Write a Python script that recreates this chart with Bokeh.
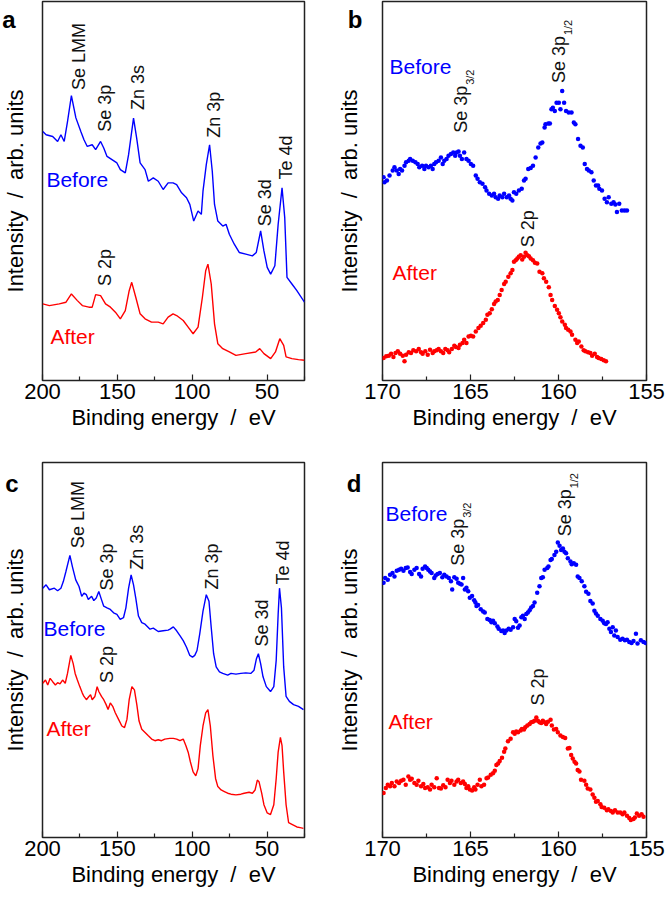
import math
from bokeh.plotting import figure
from bokeh.layouts import row, column
from bokeh.models import Range1d, FixedTicker
from bokeh.core.properties import value
from bokeh.embed import file_html
from bokeh.resources import INLINE

FONT = "Liberation Sans"
BLUE = "#0000ff"
RED = "#ff0000"
INK = "#222222"

# ---------------- Panel a : survey, line spectra ----------------
a_before_ev = [199.8, 197.6, 193.2, 189.9, 187.7, 185.5, 183.3, 180.7, 177.7, 174.4, 172.3, 170.1, 166.8, 164.5, 161.2, 159.1, 156.9, 153.6, 150.3, 148.0, 144.7, 142.5, 139.2, 137.1, 134.8, 131.5, 129.3, 126.0, 122.7, 119.4, 116.1, 112.8, 110.4, 107.1, 103.8, 101.6, 99.0, 96.1, 93.9, 92.8, 90.6, 88.4, 86.6, 85.1, 82.9, 79.6, 77.4, 75.2, 71.9, 68.6, 64.2, 59.8, 57.2, 54.3, 52.1, 49.9, 47.6, 44.8, 42.6, 40.0, 38.2, 36.7, 33.4, 30.1, 25.0]
a_before_int = [250.3, 247, 245.3, 240.3, 247, 240.3, 260.3, 286.3, 264, 250.3, 242, 235.3, 237, 232, 240.3, 233.7, 225.3, 222, 218.7, 212, 208.7, 227, 263.7, 243.7, 218.7, 212, 200.3, 203.7, 200.3, 192, 198.7, 198.7, 197, 188.7, 183.7, 177, 160.3, 170.3, 167, 190.3, 217, 237, 210.3, 177, 160.3, 155.3, 157, 147, 137, 128.7, 127, 125.3, 128.7, 150.3, 130.3, 113.7, 107, 115.3, 157, 193.7, 163.7, 103.7, 97, 90.3, 78.7]
a_after_ev = [199.8, 195.4, 188.8, 184.3, 180.7, 176.7, 173.4, 169.0, 166.8, 164.5, 161.2, 157.9, 154.6, 151.3, 148.0, 144.7, 142.1, 140.4, 137.7, 134.8, 131.5, 127.2, 122.7, 119.4, 116.1, 112.8, 110.4, 106.0, 102.7, 99.4, 96.1, 93.2, 91.0, 89.5, 87.3, 85.1, 82.9, 79.6, 75.2, 70.8, 64.2, 57.6, 54.9, 52.1, 47.6, 44.4, 41.5, 38.9, 37.3, 33.4, 29.0, 25.0]
a_after_int = [77, 75.3, 77, 78.7, 87, 80.3, 75.3, 73.7, 73.7, 86.3, 85.3, 77, 73.7, 68.7, 62, 70.3, 90.3, 98.7, 83.7, 67, 62, 58.7, 58.7, 57, 63.7, 67, 65.3, 60.3, 53.7, 47, 53.7, 83.7, 110.3, 117, 97, 57, 37, 32, 28.7, 25.3, 27, 28.7, 32, 27, 22, 28.7, 42, 35.3, 23.7, 22, 21, 20.3]

# ---------------- Panel c : survey, line spectra ----------------
c_before_ev = [199.8, 197.6, 195.4, 192.1, 189.9, 187.7, 186.1, 184.4, 181.7, 180.0, 177.8, 175.6, 173.8, 172.3, 170.7, 169.4, 167.2, 165.7, 164.1, 162.4, 160.6, 159.1, 156.9, 154.7, 152.5, 150.3, 148.1, 145.9, 144.3, 142.5, 140.8, 139.2, 137.7, 135.9, 133.7, 131.5, 128.2, 126.0, 122.7, 119.4, 116.1, 114.8, 112.6, 110.4, 108.2, 106.0, 103.8, 101.6, 99.8, 98.3, 96.8, 95.0, 92.8, 90.6, 88.8, 87.3, 85.7, 84.0, 81.8, 79.6, 76.3, 74.1, 70.8, 67.5, 64.2, 60.9, 58.7, 57.1, 55.8, 54.3, 52.7, 50.5, 47.7, 45.5, 43.9, 42.6, 41.7, 40.4, 38.9, 37.3, 35.1, 32.3, 29.0, 25.7]
c_before_int = [253.3, 256.7, 251.7, 253.3, 250.7, 253.3, 260, 270, 286.7, 275, 261.7, 255, 245, 248.3, 246.7, 241.7, 245, 240.7, 243.3, 250, 241.7, 235, 233.3, 231.7, 228.3, 226.7, 221.7, 223.3, 233.3, 253.3, 266.7, 256.7, 243.3, 225, 218.3, 216.7, 211.7, 212.7, 209.3, 210, 210.7, 211.7, 214, 210, 205, 200, 193.3, 185, 183.3, 185, 190, 206.7, 230, 246.7, 240, 213.3, 186.7, 173.3, 168.3, 166.7, 165, 166.7, 166, 166.7, 167.3, 166.7, 170, 181.7, 186.7, 176.7, 163.3, 153.3, 148.3, 153.3, 180, 226.7, 253.3, 233.3, 173.3, 143.3, 138.3, 135, 133.3, 130]
c_after_ev = [199.8, 198.0, 196.5, 194.9, 193.2, 191.4, 189.9, 188.3, 186.6, 184.8, 183.3, 181.1, 179.5, 178.2, 176.7, 175.1, 173.4, 172.3, 170.7, 169.0, 167.9, 166.8, 165.0, 163.5, 162.4, 160.6, 159.1, 157.5, 156.2, 154.7, 153.1, 151.4, 149.2, 147.0, 145.2, 143.6, 142.1, 140.3, 138.6, 137.0, 135.5, 133.7, 131.5, 129.3, 127.1, 124.9, 122.7, 120.5, 118.3, 115.0, 112.6, 110.4, 108.2, 106.0, 104.2, 102.7, 101.2, 99.4, 97.6, 96.1, 94.6, 92.8, 91.0, 89.5, 87.9, 86.2, 84.4, 82.9, 80.7, 78.5, 76.3, 74.1, 70.8, 67.5, 65.3, 62.0, 59.8, 58.0, 56.5, 55.4, 53.6, 52.1, 49.9, 47.7, 45.5, 43.9, 42.6, 41.1, 40.0, 38.9, 37.3, 35.6, 33.4, 30.1, 27.9, 25.7]
c_after_int = [156.7, 160, 155, 161.7, 158.3, 155, 157.3, 156, 160, 156.7, 166.7, 185, 176.7, 166.7, 160, 153.3, 146.7, 143.3, 140, 143.3, 145, 140, 143.3, 153.3, 148.3, 143.3, 140, 135, 130, 136.7, 133.3, 126.7, 120, 113.3, 111.7, 120, 140, 153.3, 150, 135, 118.3, 110, 106.7, 103.3, 100, 98.3, 99.3, 98.3, 100, 100.7, 100.7, 100, 98.3, 100, 93.3, 86.7, 76.7, 66.7, 62.7, 70, 93.3, 113.3, 126.7, 130, 113.3, 83.3, 60, 51.7, 48.3, 46.7, 45, 44, 43.3, 44, 45, 46, 45, 48.3, 58.3, 56.7, 45, 33.3, 25, 23.3, 33.3, 60, 86.7, 101.7, 93.3, 66.7, 33.3, 15, 13.3, 10.7, 10, 9.3]

# ---------------- Panel b : high resolution, points ----------------
b_before_ev = [169.94, 169.89, 169.75, 169.60, 169.42, 169.32, 169.19, 169.08, 169.00, 168.89, 168.75, 168.66, 168.51, 168.43, 168.28, 168.13, 168.00, 167.91, 167.75, 167.62, 167.53, 167.38, 167.25, 167.15, 167.06, 166.96, 166.81, 166.68, 166.58, 166.49, 166.36, 166.25, 166.11, 165.98, 165.87, 165.79, 165.68, 165.60, 165.49, 165.36, 165.23, 165.11, 164.98, 164.85, 164.70, 164.60, 164.47, 164.32, 164.17, 164.09, 163.94, 163.79, 163.66, 163.57, 163.43, 163.34, 163.19, 163.09, 162.94, 162.81, 162.72, 162.62, 162.53, 162.40, 162.25, 162.09, 161.96, 161.87, 161.72, 161.58, 161.45, 161.30, 161.15, 161.02, 160.92, 160.79, 160.74, 160.58, 160.49, 160.40, 160.32, 160.21, 160.11, 159.98, 159.89, 159.79, 159.68, 159.57, 159.42, 159.26, 159.13, 159.04, 158.89, 158.75, 158.62, 158.51, 158.38, 158.28, 158.13, 158.00, 157.87, 157.75, 157.68, 157.53, 157.38, 157.25, 157.15, 157.00, 156.87, 156.77, 156.68, 156.55, 156.40, 156.25, 156.11]
b_before_int = [204.3, 199.3, 201.0, 206.0, 211.0, 214.3, 211.0, 207.7, 212.7, 211.0, 216.0, 219.3, 221.0, 222.7, 221.0, 219.3, 217.7, 214.3, 216.0, 212.7, 216.0, 214.3, 216.0, 212.7, 217.7, 219.3, 221.0, 224.3, 217.7, 221.0, 222.7, 226.0, 227.7, 229.3, 226.0, 229.3, 230.3, 226.0, 222.7, 229.3, 222.7, 221.0, 217.7, 216.0, 206.0, 202.7, 199.3, 197.7, 194.3, 191.0, 187.7, 186.0, 187.7, 184.3, 182.7, 186.0, 184.3, 187.7, 184.3, 186.0, 182.7, 181.0, 189.3, 187.7, 191.0, 192.7, 201.0, 202.7, 212.7, 213.7, 216.0, 224.3, 234.3, 238.3, 239.3, 254.3, 257.7, 258.3, 258.3, 272.7, 274.3, 271.0, 279.3, 279.3, 272.7, 291.0, 279.3, 271.0, 269.3, 269.3, 259.3, 257.7, 242.7, 236.0, 234.3, 217.7, 212.7, 211.0, 209.3, 201.0, 196.0, 196.0, 192.7, 191.0, 182.7, 179.3, 184.3, 177.7, 179.3, 177.0, 169.3, 177.7, 171.0, 171.0, 171.0]
b_after_ev = [169.94, 169.79, 169.64, 169.51, 169.38, 169.26, 169.13, 169.00, 168.85, 168.75, 168.66, 168.51, 168.38, 168.25, 168.09, 167.94, 167.81, 167.72, 167.57, 167.43, 167.30, 167.15, 167.06, 166.92, 166.81, 166.68, 166.55, 166.43, 166.30, 166.21, 166.06, 165.92, 165.83, 165.68, 165.60, 165.45, 165.36, 165.23, 165.11, 164.98, 164.85, 164.70, 164.55, 164.42, 164.28, 164.13, 164.04, 163.91, 163.79, 163.66, 163.57, 163.45, 163.34, 163.23, 163.09, 163.00, 162.85, 162.72, 162.62, 162.53, 162.43, 162.34, 162.25, 162.15, 162.06, 161.96, 161.87, 161.77, 161.68, 161.58, 161.45, 161.34, 161.21, 161.08, 160.92, 160.83, 160.70, 160.55, 160.45, 160.36, 160.21, 160.08, 159.98, 159.89, 159.79, 159.64, 159.57, 159.45, 159.32, 159.23, 159.04, 158.94, 158.85, 158.70, 158.57, 158.47, 158.32, 158.19, 158.09, 157.94, 157.81, 157.72, 157.57, 157.43, 157.30]
b_after_int = [22.7, 24.3, 25.0, 27.0, 23.7, 27.7, 29.3, 27.0, 25.0, 19.3, 26.0, 28.3, 27.7, 30.3, 29.3, 31.7, 28.3, 27.0, 29.3, 26.0, 31.0, 27.7, 29.3, 30.3, 31.7, 29.3, 27.7, 31.7, 30.3, 28.3, 31.7, 35.0, 33.7, 32.7, 36.0, 37.7, 41.0, 37.7, 44.3, 45.0, 44.3, 49.3, 52.7, 55.0, 57.7, 61.0, 66.0, 67.7, 71.7, 77.0, 79.3, 81.0, 86.0, 91.0, 97.0, 99.3, 104.3, 107.7, 111.0, 119.3, 121.0, 122.7, 124.3, 126.0, 121.7, 124.3, 128.3, 126.0, 125.0, 122.7, 121.0, 118.3, 117.7, 109.3, 107.7, 102.7, 99.3, 93.7, 86.0, 81.0, 75.0, 71.0, 67.7, 63.7, 59.3, 56.0, 52.7, 51.0, 49.3, 46.0, 41.0, 37.7, 39.3, 34.3, 30.3, 29.3, 28.3, 27.7, 25.0, 27.0, 23.7, 22.7, 21.7, 20.3, 19.3]

# ---------------- Panel d : high resolution, points ----------------
d_before_ev = [169.94, 169.85, 169.70, 169.57, 169.43, 169.32, 169.19, 169.06, 168.94, 168.81, 168.68, 168.57, 168.43, 168.34, 168.19, 168.06, 167.92, 167.81, 167.72, 167.58, 167.49, 167.40, 167.30, 167.21, 167.06, 166.98, 166.87, 166.74, 166.60, 166.49, 166.36, 166.23, 166.11, 166.04, 165.92, 165.79, 165.70, 165.60, 165.51, 165.42, 165.32, 165.23, 165.13, 165.04, 164.91, 164.79, 164.72, 164.66, 164.57, 164.42, 164.28, 164.19, 164.04, 163.91, 163.81, 163.72, 163.62, 163.47, 163.40, 163.25, 163.15, 163.06, 162.96, 162.83, 162.72, 162.58, 162.49, 162.40, 162.30, 162.21, 162.11, 162.02, 161.92, 161.83, 161.74, 161.64, 161.55, 161.45, 161.36, 161.21, 161.08, 160.98, 160.89, 160.79, 160.64, 160.57, 160.45, 160.38, 160.23, 160.13, 160.04, 159.94, 159.85, 159.75, 159.66, 159.57, 159.47, 159.32, 159.25, 159.13, 159.00, 158.91, 158.81, 158.68, 158.53, 158.43, 158.30, 158.19, 158.06, 157.96, 157.87, 157.77, 157.62, 157.49, 157.40, 157.30, 157.21, 157.11, 157.02, 156.92, 156.83, 156.74, 156.64, 156.49, 156.36, 156.23, 156.11, 155.98, 155.85, 155.74, 155.60, 155.51, 155.32, 155.17, 155.04]
d_before_int = [258.7, 263.7, 262.0, 267.0, 268.7, 265.3, 271.0, 272.0, 273.0, 271.0, 273.7, 274.3, 269.7, 267.7, 272.0, 273.7, 267.7, 265.3, 273.0, 275.3, 273.7, 272.0, 270.3, 268.7, 263.7, 266.3, 267.7, 268.7, 264.3, 267.0, 265.3, 263.7, 260.3, 252.0, 264.3, 263.0, 258.7, 257.7, 257.0, 263.7, 252.0, 253.7, 250.3, 243.7, 245.3, 241.0, 238.7, 235.3, 236.3, 232.0, 229.7, 228.7, 222.0, 221.0, 218.7, 220.3, 217.7, 214.3, 212.0, 209.7, 210.3, 207.7, 210.3, 212.0, 211.0, 213.7, 222.0, 219.7, 213.0, 215.3, 223.7, 225.3, 222.0, 227.0, 228.7, 231.0, 233.7, 235.3, 238.7, 248.7, 255.3, 263.7, 264.3, 272.0, 273.7, 275.3, 282.0, 283.0, 287.0, 290.3, 299.7, 296.3, 292.0, 293.7, 290.3, 288.7, 283.7, 280.3, 277.7, 278.7, 277.0, 265.3, 263.7, 260.3, 255.3, 249.7, 247.7, 240.3, 237.7, 230.3, 227.7, 225.3, 222.0, 220.3, 217.7, 217.0, 218.7, 212.0, 208.7, 213.7, 205.3, 210.3, 203.7, 201.0, 202.0, 200.3, 201.0, 198.7, 197.7, 199.7, 207.0, 197.0, 200.3, 198.7, 197.7]
d_after_ev = [169.94, 169.81, 169.70, 169.57, 169.47, 169.32, 169.19, 169.06, 168.94, 168.81, 168.68, 168.53, 168.43, 168.34, 168.19, 168.06, 167.96, 167.81, 167.68, 167.58, 167.43, 167.30, 167.21, 167.06, 166.92, 166.79, 166.68, 166.55, 166.42, 166.30, 166.17, 166.08, 165.92, 165.79, 165.70, 165.55, 165.42, 165.32, 165.23, 165.13, 165.04, 164.91, 164.79, 164.72, 164.60, 164.47, 164.38, 164.23, 164.09, 164.00, 163.85, 163.72, 163.62, 163.53, 163.43, 163.34, 163.21, 163.09, 163.02, 162.87, 162.72, 162.58, 162.49, 162.40, 162.30, 162.15, 162.08, 161.96, 161.89, 161.77, 161.64, 161.55, 161.45, 161.36, 161.26, 161.17, 161.08, 160.98, 160.89, 160.79, 160.70, 160.60, 160.45, 160.38, 160.26, 160.13, 160.04, 159.89, 159.75, 159.62, 159.47, 159.38, 159.28, 159.19, 159.09, 159.00, 158.91, 158.81, 158.72, 158.53, 158.43, 158.34, 158.19, 158.06, 157.96, 157.87, 157.77, 157.62, 157.55, 157.40, 157.25, 157.17, 157.02, 156.92, 156.79, 156.64, 156.49, 156.36, 156.26, 156.11, 155.98, 155.89, 155.74, 155.66, 155.55, 155.42, 155.28, 155.17]
d_after_int = [45.3, 50.3, 53.7, 52.0, 55.3, 52.0, 57.0, 55.3, 57.7, 58.7, 53.7, 62.0, 58.7, 59.7, 55.3, 53.7, 57.7, 52.0, 54.3, 50.3, 51.0, 48.7, 53.7, 51.0, 60.3, 50.3, 49.7, 53.0, 51.0, 58.7, 55.3, 57.7, 53.7, 57.0, 58.7, 55.3, 57.0, 54.3, 50.3, 52.0, 48.7, 47.7, 51.0, 48.7, 53.7, 58.7, 52.0, 53.7, 60.3, 61.0, 63.7, 65.3, 67.7, 73.7, 75.3, 77.7, 81.0, 87.0, 90.3, 97.7, 100.3, 107.0, 105.3, 107.7, 107.0, 108.7, 110.3, 109.7, 112.0, 113.7, 115.3, 117.0, 117.7, 118.7, 122.0, 118.7, 117.0, 116.3, 118.7, 117.0, 115.3, 117.7, 119.7, 113.7, 109.7, 110.3, 107.0, 103.7, 102.0, 101.0, 90.3, 91.0, 83.7, 80.3, 77.0, 75.3, 68.7, 67.0, 58.7, 57.7, 53.7, 49.7, 48.7, 43.7, 40.3, 36.3, 37.0, 33.7, 31.0, 30.3, 27.7, 28.7, 27.0, 25.3, 27.7, 25.3, 25.3, 23.7, 25.3, 22.0, 19.7, 17.7, 18.7, 20.3, 24.3, 22.0, 23.7, 21.0]

# ---------------- axis ticks ----------------
survey_range = (200, 25)
survey_ticks = [200, 150, 100, 50]
survey_minor = [175, 125, 75, 25]
hr_range = (170, 155)
hr_ticks = [170, 165, 160, 155]
hr_minor = [167.5, 162.5, 157.5]

# panel letters, shown as the single label of each intensity axis (value, letter)
a_letter = (363, "a")
b_letter = (363, "b")
c_letter = (360, "c")
d_letter = (360, "d")

# ---------------- peak annotations (x, y, text) ----------------
a_peaks_x = [175.6, 158.1, 136.3, 85.4, 51.4, 37.2, 158.1]
a_peaks_y = [292, 250, 272, 244, 155, 202, 95]
a_peaks_t = ["Se LMM", "Se 3p", "Zn 3s", "Zn 3p", "Se 3d", "Te 4d", "S 2p"]
c_peaks_x = [176.6, 156.7, 136.9, 86.7, 53.7, 39.2, 156.7]
c_peaks_y = [294, 251, 272, 252, 194, 257, 157]
c_peaks_t = ["Se LMM", "Se 3p", "Zn 3s", "Zn 3p", "Se 3d", "Te 4d", "S 2p"]
b_peaks_x = [165.53, 159.98, 161.71]
b_peaks_y = [249, 299, 134]
b_peaks_t = ["Se 3p", "Se 3p", "S 2p"]
b_subs_t = ["3/2", "1/2", ""]
d_peaks_x = [165.70, 159.61, 161.14]
d_peaks_y = [276, 306, 134]
d_peaks_t = ["Se 3p", "Se 3p", "S 2p"]
d_subs_t = ["3/2", "1/2", ""]

# sample labels (x, y) for Before / After
a_lab = [(197.4, 202), (194.7, 44)]
b_lab = [(169.6, 316), (169.43, 109)]
c_lab = [(199.3, 212), (197.4, 111)]
d_lab = [(169.83, 329), (169.66, 118)]


def make_fig(width, height, xr, ticks, minor, letter, left, right, top, bottom,
             letter_standoff, label_standoff):
    p = figure(width=width, height=height, x_range=Range1d(*xr), y_range=Range1d(0, 381),
               output_backend="svg", toolbar_location=None,
               min_border_left=left, min_border_right=right,
               min_border_top=top, min_border_bottom=bottom)
    p.background_fill_color = "white"
    p.border_fill_color = "white"
    p.xgrid.visible = False
    p.ygrid.visible = False
    p.outline_line_color = INK
    p.outline_line_width = 1.5
    p.outline_line_alpha = 1.0

    xa = p.xaxis[0]
    xa.ticker = FixedTicker(ticks=ticks, minor_ticks=minor)
    xa.axis_line_color = None
    xa.major_tick_in = 6
    xa.major_tick_out = 0
    xa.minor_tick_in = 4
    xa.minor_tick_out = 0
    xa.major_tick_line_color = INK
    xa.minor_tick_line_color = INK
    xa.major_tick_line_width = 1.2
    xa.minor_tick_line_width = 1.2
    xa.major_label_text_font = FONT
    xa.major_label_text_font_size = "22px"
    xa.major_label_text_color = "black"
    xa.major_label_standoff = 3
    xa.axis_label = "Binding energy \u00a0/\u00a0 eV"
    xa.axis_label_text_font = FONT
    xa.axis_label_text_font_size = "22px"
    xa.axis_label_text_font_style = "normal"
    xa.axis_label_text_color = "black"
    xa.axis_label_standoff = 3

    lv, lt = letter
    ya = p.yaxis[0]
    ya.ticker = FixedTicker(ticks=[lv], minor_ticks=[])
    ya.major_label_overrides = {lv: lt}
    ya.axis_line_color = None
    ya.major_tick_line_color = None
    ya.minor_tick_line_color = None
    ya.major_tick_in = 0
    ya.major_tick_out = 0
    ya.minor_tick_in = 0
    ya.minor_tick_out = 0
    ya.major_label_orientation = "horizontal"
    ya.major_label_text_font = FONT
    ya.major_label_text_font_size = "24px"
    ya.major_label_text_font_style = "bold"
    ya.major_label_text_color = "black"
    ya.major_label_standoff = letter_standoff
    ya.axis_label = "Intensity \u00a0/\u00a0 arb. units"
    ya.axis_label_text_font = FONT
    ya.axis_label_text_font_size = "22px"
    ya.axis_label_text_font_style = "normal"
    ya.axis_label_text_color = "black"
    ya.axis_label_standoff = label_standoff
    return p


def add_peaks(p, xs, ys, ts, subs=None):
    p.text(x=xs, y=ys, text=ts, angle=math.pi / 2, text_font=value(FONT),
           text_font_size=value("18px"), text_color="#111111",
           text_align="left", text_baseline="alphabetic")
    if subs is not None:
        sx = [x for x, s in zip(xs, subs) if s]
        sy = [y for y, s in zip(ys, subs) if s]
        st = [s for s in subs if s]
        p.text(x=sx, y=sy, text=st, angle=math.pi / 2, text_font=value(FONT),
               text_font_size=value("11px"), text_color="#111111",
               text_align="left", text_baseline="alphabetic",
               x_offset=9, y_offset=-48)


def add_samples(p, lab):
    (bx, by), (ax_, ay) = lab
    p.text(x=[bx], y=[by], text=["Before"], text_font=value(FONT), text_font_size=value("21px"),
           text_color=BLUE, text_align="left", text_baseline="alphabetic")
    p.text(x=[ax_], y=[ay], text=["After"], text_font=value(FONT), text_font_size=value("21px"),
           text_color=RED, text_align="left", text_baseline="alphabetic")


# ---- panel a
pa = make_fig(333, 450, survey_range, survey_ticks, survey_minor, a_letter, 39, 29, 1, 70, 27, -29)
pa.line(a_before_ev, a_before_int, line_color=BLUE, line_width=1.4)
pa.line(a_after_ev, a_after_int, line_color=RED, line_width=1.4)
add_peaks(pa, a_peaks_x, a_peaks_y, a_peaks_t)
add_samples(pa, a_lab)

# ---- panel b
pb = make_fig(332, 450, hr_range, hr_ticks, hr_minor, b_letter, 48, 19, 1, 70, 20, -17)
pb.scatter(b_before_ev, b_before_int, size=4.5, color=BLUE, line_width=0)
pb.scatter(b_after_ev, b_after_int, size=4.5, color=RED, line_width=0)
add_peaks(pb, b_peaks_x, b_peaks_y, b_peaks_t, b_subs_t)
add_samples(pb, b_lab)

# ---- panel c
pc = make_fig(333, 451, survey_range, survey_ticks, survey_minor, c_letter, 39, 29, 12, 64, 24, -26)
pc.line(c_before_ev, c_before_int, line_color=BLUE, line_width=1.4)
pc.line(c_after_ev, c_after_int, line_color=RED, line_width=1.4)
add_peaks(pc, c_peaks_x, c_peaks_y, c_peaks_t)
add_samples(pc, c_lab)

# ---- panel d
pd_ = make_fig(332, 451, hr_range, hr_ticks, hr_minor, d_letter, 48, 19, 12, 64, 21, -18)
pd_.scatter(d_before_ev, d_before_int, size=4.5, color=BLUE, line_width=0)
pd_.scatter(d_after_ev, d_after_int, size=4.5, color=RED, line_width=0)
add_peaks(pd_, d_peaks_x, d_peaks_y, d_peaks_t, d_subs_t)
add_samples(pd_, d_lab)

layout = column(row(pa, pb, spacing=0), row(pc, pd_, spacing=0), spacing=0)

open("out.html", "w").write(file_html(layout, INLINE))
